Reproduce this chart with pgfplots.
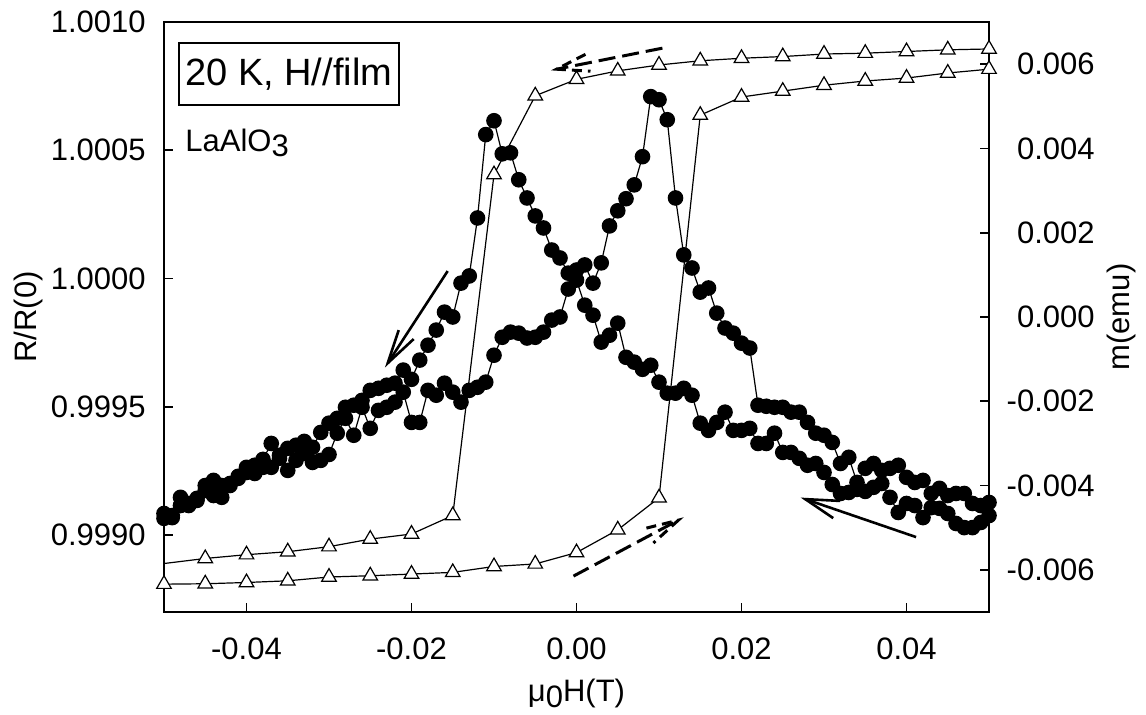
\documentclass[border=0pt]{standalone}
\usepackage{fontspec}
\setmainfont{Liberation Sans}
\usepackage{pgfplots}
\pgfplotsset{compat=1.18}
\usepackage{pgfplotstable}

% R/R(0), field swept down (peak near -0.011 T)
\pgfplotstableread{
H R
-0.050 0.999084
-0.049 0.999076
-0.048 0.999147
-0.047 0.999115
-0.046 0.999143
-0.045 0.999193
-0.044 0.999213
-0.043 0.999193
-0.042 0.999201
-0.041 0.999229
-0.040 0.999264
-0.039 0.999272
-0.038 0.999295
-0.037 0.999357
-0.036 0.999311
-0.035 0.999338
-0.034 0.999350
-0.033 0.999365
-0.032 0.999342
-0.031 0.999400
-0.030 0.999436
-0.029 0.999455
-0.028 0.999498
-0.027 0.999506
-0.026 0.999525
-0.025 0.999564
-0.024 0.999572
-0.023 0.999584
-0.022 0.999592
-0.021 0.999643
-0.020 0.999607
-0.019 0.999682
-0.018 0.999740
-0.017 0.999799
-0.016 0.999869
-0.015 0.999850
-0.014 0.999982
-0.013 1.000010
-0.012 1.000236
-0.011 1.000561
-0.010 1.000615
-0.009 1.000486
-0.008 1.000490
-0.007 1.000385
-0.006 1.000314
-0.005 1.000244
-0.004 1.000197
-0.003 1.000111
-0.002 1.000080
-0.001 1.000021
0.000 0.999994
0.001 0.999896
0.002 0.999857
0.003 0.999752
0.004 0.999779
0.005 0.999826
0.006 0.999693
0.007 0.999674
0.008 0.999646
0.009 0.999662
0.010 0.999596
0.011 0.999553
0.012 0.999553
0.013 0.999572
0.014 0.999545
0.015 0.999436
0.016 0.999408
0.017 0.999439
0.018 0.999479
0.019 0.999408
0.020 0.999408
0.021 0.999416
0.022 0.999357
0.023 0.999357
0.024 0.999397
0.025 0.999322
0.026 0.999322
0.027 0.999299
0.028 0.999272
0.029 0.999279
0.030 0.999244
0.031 0.999197
0.032 0.999162
0.033 0.999166
0.034 0.999178
0.035 0.999170
0.036 0.999186
0.037 0.999201
0.038 0.999147
0.039 0.999088
0.040 0.999123
0.041 0.999115
0.042 0.999068
0.043 0.999107
0.044 0.999104
0.045 0.999084
0.046 0.999045
0.047 0.999029
0.048 0.999029
0.049 0.999049
0.050 0.999076
}\rdown

% R/R(0), field swept up (peak near +0.009 T)
\pgfplotstableread{
H R
-0.050 0.999065
-0.049 0.999068
-0.048 0.999115
-0.047 0.999123
-0.046 0.999135
-0.045 0.999174
-0.044 0.999154
-0.043 0.999147
-0.042 0.999193
-0.041 0.999221
-0.040 0.999244
-0.039 0.999240
-0.038 0.999264
-0.037 0.999264
-0.036 0.999299
-0.035 0.999252
-0.034 0.999291
-0.033 0.999318
-0.032 0.999283
-0.031 0.999291
-0.030 0.999314
-0.029 0.999397
-0.028 0.999455
-0.027 0.999389
-0.026 0.999498
-0.025 0.999416
-0.024 0.999486
-0.023 0.999498
-0.022 0.999518
-0.021 0.999557
-0.020 0.999439
-0.019 0.999439
-0.018 0.999564
-0.017 0.999545
-0.016 0.999592
-0.015 0.999557
-0.014 0.999518
-0.013 0.999564
-0.012 0.999576
-0.011 0.999596
-0.010 0.999701
-0.009 0.999771
-0.008 0.999791
-0.007 0.999787
-0.006 0.999768
-0.005 0.999771
-0.004 0.999791
-0.003 0.999838
-0.002 0.999850
-0.001 0.999959
0.000 1.000033
0.001 1.000053
0.002 0.999982
0.003 1.000061
0.004 1.000205
0.005 1.000264
0.006 1.000311
0.007 1.000365
0.008 1.000475
0.009 1.000709
0.010 1.000697
0.011 1.000619
0.012 1.000314
0.013 1.000092
0.014 1.000041
0.015 0.999947
0.016 0.999963
0.017 0.999865
0.018 0.999807
0.019 0.999787
0.020 0.999748
0.021 0.999729
0.022 0.999506
0.023 0.999502
0.024 0.999498
0.025 0.999498
0.026 0.999479
0.027 0.999479
0.028 0.999439
0.029 0.999397
0.030 0.999389
0.031 0.999361
0.032 0.999279
0.033 0.999303
0.034 0.999205
0.035 0.999260
0.036 0.999279
0.037 0.999252
0.038 0.999260
0.039 0.999272
0.040 0.999225
0.041 0.999205
0.042 0.999213
0.043 0.999162
0.044 0.999182
0.045 0.999154
0.046 0.999162
0.047 0.999162
0.048 0.999123
0.049 0.999115
0.050 0.999127
}\rup

% m(emu), field swept up
\pgfplotstableread{
H m
-0.050 -0.00634
-0.045 -0.00633
-0.040 -0.00630
-0.035 -0.00626
-0.030 -0.00617
-0.025 -0.00614
-0.020 -0.00610
-0.015 -0.00606
-0.010 -0.00592
-0.005 -0.00586
0.000 -0.00559
0.005 -0.00505
0.010 -0.00429
0.015 0.00479
0.020 0.00522
0.025 0.00536
0.030 0.00550
0.035 0.00560
0.040 0.00567
0.045 0.00579
0.050 0.00588
}\mup

% m(emu), field swept down
\pgfplotstableread{
H m
-0.050 -0.00585
-0.045 -0.00573
-0.040 -0.00564
-0.035 -0.00557
-0.030 -0.00545
-0.025 -0.00527
-0.020 -0.00515
-0.015 -0.00471
-0.010 0.00338
-0.005 0.00525
0.000 0.00564
0.005 0.00584
0.010 0.00598
0.015 0.00608
0.020 0.00614
0.025 0.00618
0.030 0.00624
0.035 0.00626
0.040 0.00630
0.045 0.00634
0.050 0.00636
}\mdown

\newcommand{\lbl}{\fontsize{15.5}{18}\selectfont}

\pgfplotsset{
  hyst/.style={
    scale only axis, width=412.5pt, height=295pt,
    xmin=-0.05, xmax=0.05, clip=false,
    axis line style={line width=1pt,-},
    tick style={line width=0.8pt, black},
    major tick length=4.5pt,
    tick label style={font=\lbl, inner sep=0pt},
    label style={font=\lbl},
    scaled ticks=false,
  },
  dots/.style={black, line width=0.6pt, mark=*, mark size=3.6pt,
    mark options={fill=black, solid}},
  tris/.style={black, line width=0.6pt, mark=triangle*, mark size=4.2pt,
    mark options={fill=white, solid}},
}

\begin{document}
\begin{tikzpicture}
\begin{axis}[
  hyst,
  ymin=0.9987, ymax=1.0010,
  tick align=inside,
  xtick pos=left, ytick pos=left,
  xtick={-0.04,-0.02,0,0.02,0.04},
  xticklabels={-0.04,-0.02,0.00,0.02,0.04},
  ytick={0.999,0.9995,1,1.0005,1.001},
  yticklabels={0.9990,0.9995,1.0000,1.0005,1.0010},
  xticklabel style={anchor=north, yshift=-12.5pt},
  yticklabel style={anchor=east, xshift=-9pt},
  xlabel={μ\raisebox{-3pt}{0}H(T)},
  ylabel={R/R(0)},
  xlabel style={at={(axis description cs:0.5,-0.1525)}, anchor=base},
  ylabel style={at={(axis description cs:-0.164,0.5)}, anchor=center},
]
\addplot[dots] table[x=H, y=R] {\rdown};
\addplot[dots] table[x=H, y=R] {\rup};

% sweep direction arrows
\draw[line width=1.3pt] (axis cs:-0.015617,1.000029) -- (axis cs:-0.022881,0.999670);
\draw[line width=1.3pt] (axis cs:-0.02155,0.999799) -- (axis cs:-0.022881,0.999670) -- (axis cs:-0.019734,0.999764);
\draw[line width=1.3pt] (axis cs:0.041162,0.998992) -- (axis cs:0.027724,0.999140);
\draw[line width=1.3pt] (axis cs:0.031961,0.999133) -- (axis cs:0.027724,0.999140) -- (axis cs:0.031114,0.999066);
\draw[line width=1.5pt, dash pattern=on 8.5pt off 3.5pt] (axis cs:-0.000363,0.998840) -- (axis cs:0.012349,0.999058);
\draw[line width=1.5pt, dash pattern=on 5pt off 3pt] (axis cs:0.008475,0.999027) -- (axis cs:0.012349,0.999058) -- (axis cs:0.009322,0.998969);
\draw[line width=1.5pt, dash pattern=on 8.5pt off 3.5pt] (axis cs:0.010412,1.000898) -- (axis cs:-0.002421,1.000816);
\draw[line width=1.5pt, dash pattern=on 5pt off 3pt] (axis cs:0.001090,1.000874) -- (axis cs:-0.002421,1.000816) -- (axis cs:0.001695,1.000808);

\node[draw, line width=0.75pt, anchor=north west, inner sep=0pt,
      minimum width=110pt, minimum height=31pt,
      font=\fontsize{19}{22}\selectfont] at (rel axis cs:0.017,0.966) {20 K, H//film};
\node[anchor=base west, inner sep=0pt, font=\lbl] at (rel axis cs:0.0255,0.7797)
  {LaAlO\raisebox{-2.5pt}{3}};
\end{axis}

\begin{axis}[
  hyst,
  ymin=-0.007, ymax=0.007,
  axis x line=none, axis y line=right,
  axis line style={line width=1pt,-},
  tick align=inside, ytick pos=right,
  ytick={-0.006,-0.004,-0.002,0,0.002,0.004,0.006},
  yticklabels={-0.006,-0.004,-0.002,0.000,0.002,0.004,0.006},
  yticklabel style={anchor=east, xshift=53pt},
]
\addplot[tris] table[x=H, y=m] {\mup};
\addplot[tris, mark repeat=1, mark phase=2] table[x=H, y=m] {\mdown};
\node[rotate=90, anchor=center, inner sep=0pt, font=\lbl]
  at (rel axis cs:1.161,0.5) {m(emu)};
\end{axis}

\pgfresetboundingbox
\path[use as bounding box] (-82pt,-51.5pt) rectangle (491pt,306pt);
\end{tikzpicture}
\end{document}
